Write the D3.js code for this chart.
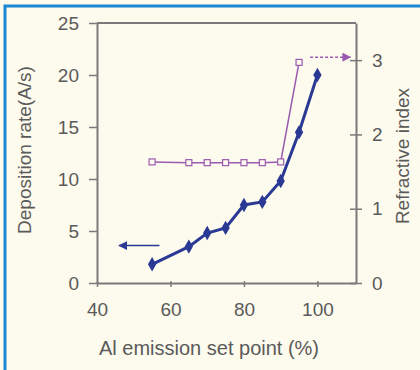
<!DOCTYPE html>
<html>
<head>
<meta charset="utf-8">
<script src="https://cdn.jsdelivr.net/npm/d3@7"></script>
<style>
  body { margin: 0; background: #fff; }
  svg { display: block; font-family: "Liberation Sans", Arial, sans-serif; }
</style>
</head>
<body>
<div id="chart"></div>
<script>
// emission set point (%) vs deposition rate (A/s)
const depX = [55, 65, 70, 75, 80, 85, 90, 95, 100];
const depY = [1.8, 3.5, 4.8, 5.3, 7.5, 7.8, 9.8, 14.5, 20];

// emission set point (%) vs refractive index
const riX = [55, 65, 70, 75, 80, 85, 90, 95];
const riY = [1.63, 1.62, 1.62, 1.62, 1.62, 1.62, 1.63, 2.97];

const xTicks = [40, 60, 80, 100];
const yLeftTicks = [0, 5, 10, 15, 20, 25];
const yRightTicks = [0, 1, 2, 3];

// legend arrows: [x start, x end, y value on own axis]
const depArrow = [57, 46, 3.6];
const riArrow = [98, 109, 3.04];

const W = 420, H = 370;
const margin = { top: 23, right: 64, bottom: 87, left: 97 };

const svg = d3.select("#chart").append("svg")
    .attr("width", W)
    .attr("height", H);

svg.append("rect").attr("width", W).attr("height", H).attr("fill", "#fdfaee");

// blue frame edges
svg.append("path")
    .attr("d", `M5,${H} V6 H${W}`)
    .attr("fill", "none")
    .attr("stroke", "#1b87d2")
    .attr("stroke-width", 3);

const x = d3.scaleLinear().domain([40, 110.5]).range([margin.left, W - margin.right]);
const yL = d3.scaleLinear().domain([0, 25]).range([H - margin.bottom, margin.top]);
const yR = d3.scaleLinear().domain([0, 3.5]).range([H - margin.bottom, margin.top]);

const axisColor = "#7a7a7a";
const textColor = "#5a5a5a";

const styleAxis = g => {
    g.select(".domain").attr("stroke", axisColor).attr("stroke-width", 2);
    g.selectAll(".tick line").attr("stroke", axisColor).attr("stroke-width", 1.5);
    g.selectAll(".tick text").attr("fill", textColor).attr("font-size", 19);
};

svg.append("g")
    .attr("transform", `translate(0,${H - margin.bottom})`)
    .call(d3.axisBottom(x).tickValues(xTicks).tickSize(4).tickPadding(16).tickSizeOuter(0))
    .call(styleAxis)
    .call(g => g.selectAll(".tick line").attr("y1", -2).attr("y2", 4));

svg.append("g")
    .attr("transform", `translate(${margin.left},0)`)
    .call(d3.axisLeft(yL).tickValues(yLeftTicks).tickSize(8).tickPadding(10).tickSizeOuter(0))
    .call(styleAxis);

svg.append("g")
    .attr("transform", `translate(${W - margin.right},0)`)
    .call(d3.axisRight(yR).tickValues(yRightTicks).tickFormat(d3.format("d"))
        .tickSize(6).tickPadding(10).tickSizeOuter(0))
    .call(styleAxis)
    .call(g => g.selectAll(".tick line").attr("x1", -6));

// top frame line
svg.append("line")
    .attr("x1", margin.left).attr("x2", W - margin.right)
    .attr("y1", margin.top).attr("y2", margin.top)
    .attr("stroke", axisColor).attr("stroke-width", 2);

// axis titles
svg.append("text")
    .attr("transform", `translate(31,150) rotate(-90)`)
    .attr("text-anchor", "middle")
    .attr("fill", textColor)
    .attr("font-size", 19)
    .text("Deposition rate(A/s)");

svg.append("text")
    .attr("transform", `translate(409,156) rotate(-90)`)
    .attr("text-anchor", "middle")
    .attr("fill", textColor)
    .attr("font-size", 19)
    .text("Refractive index");

svg.append("text")
    .attr("x", 209)
    .attr("y", 355)
    .attr("text-anchor", "middle")
    .attr("fill", textColor)
    .attr("font-size", 20)
    .text("Al emission set point (%)");

const depColor = "#2a3a94";
const riColor = "#9a5bb0";

svg.append("defs").selectAll("marker")
    .data([["arrDep", depColor], ["arrRi", riColor]])
    .join("marker")
    .attr("id", d => d[0])
    .attr("viewBox", "0 0 10 10")
    .attr("refX", 9).attr("refY", 5)
    .attr("markerWidth", 6).attr("markerHeight", 6)
    .attr("orient", "auto")
    .append("path")
    .attr("d", "M0,0 L10,5 L0,10 z")
    .attr("fill", d => d[1]);

// refractive index series
svg.append("path")
    .datum(riX.map((v, i) => [v, riY[i]]))
    .attr("fill", "none")
    .attr("stroke", riColor)
    .attr("stroke-width", 1.5)
    .attr("d", d3.line().x(d => x(d[0])).y(d => yR(d[1])));

svg.append("g").selectAll("rect")
    .data(riX.map((v, i) => [v, riY[i]]))
    .join("rect")
    .attr("x", d => x(d[0]) - 3)
    .attr("y", d => yR(d[1]) - 3)
    .attr("width", 6).attr("height", 6)
    .attr("fill", "#fdfaee")
    .attr("stroke", riColor)
    .attr("stroke-width", 1.2);

// deposition rate series
svg.append("path")
    .datum(depX.map((v, i) => [v, depY[i]]))
    .attr("fill", "none")
    .attr("stroke", depColor)
    .attr("stroke-width", 3)
    .attr("d", d3.line().x(d => x(d[0])).y(d => yL(d[1])));

svg.append("g").selectAll("path")
    .data(depX.map((v, i) => [v, depY[i]]))
    .join("path")
    .attr("transform", d => `translate(${x(d[0])},${yL(d[1])})`)
    .attr("d", d3.symbol(d3.symbolDiamond, 60))
    .attr("fill", depColor);

// arrows pointing to each series' axis
svg.append("line")
    .attr("x1", x(depArrow[0])).attr("x2", x(depArrow[1]))
    .attr("y1", yL(depArrow[2])).attr("y2", yL(depArrow[2]))
    .attr("stroke", depColor).attr("stroke-width", 1.5)
    .attr("marker-end", "url(#arrDep)");

svg.append("line")
    .attr("x1", x(riArrow[0])).attr("x2", x(riArrow[1]))
    .attr("y1", yR(riArrow[2])).attr("y2", yR(riArrow[2]))
    .attr("stroke", riColor).attr("stroke-width", 1.5)
    .attr("stroke-dasharray", "3,2")
    .attr("marker-end", "url(#arrRi)");
</script>
</body>
</html>
